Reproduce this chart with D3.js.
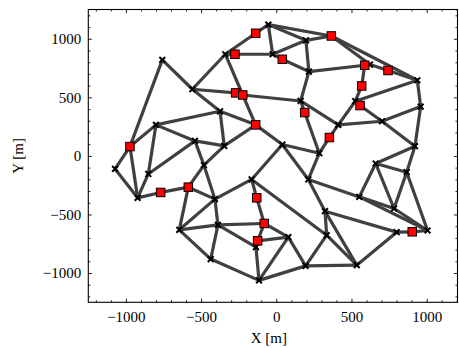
<!DOCTYPE html>
<html>
<head>
<meta charset="utf-8">
<script src="https://cdn.jsdelivr.net/npm/d3@7"></script>
<style>
  body { margin: 0; background: #fff; }
  svg { display: block; }
  text { font-family: "Liberation Serif", "DejaVu Serif", serif; fill: #000; }
</style>
</head>
<body>
<div id="app"></div>
<script>
// junctions (x markers)
const junctionIds = ["A","B","C","D","E","F","G","H","I","J","K","L","M","N","O","P","Q","R","S","T","U","V","W","X","Y","Z",
  "AA","AB","AC","AD","AE","AF","AG","AH","AI","AJ","AK","AL","AM","AN","AO","AP","AQ","AR"];
const junctionX = [-758,-558,-339,-53,-24,197,217,623,938,525,960,162,412,703,922,40,286,-374,-800,-541,-346,-1072,-851,-922,-481,-408,
  -164,-388,-645,-135,-436,-115,661,867,213,552,783,324,800,1006,335,80,195,535];
const junctionY = [820,569,868,1121,868,987,720,780,646,467,421,469,265,296,83,97,23,381,265,128,85,-111,-154,-358,-79,-369,
  -201,-589,-631,-779,-881,-1063,-65,-139,-201,-350,-449,-472,-651,-637,-677,-694,-939,-933];

// red squares
const sinkIds = ["r1","r2","r3","r4","r5","r6","r7","r8","r9","r10","r11","r12","r13","r14","r15","r16","r17","r18","r19","r20"];
const sinkX = [-275,-137,40,366,588,743,568,557,189,353,-270,-223,-137,-973,-769,-585,-130,-80,-124,904];
const sinkY = [868,1047,825,1024,774,729,597,430,370,157,538,520,265,80,-312,-267,-358,-577,-725,-648];

// pipes
const edges = [
  ["A","B"],["A","r14"],["B","C"],["C","r1"],["r1","E"],["C","r2"],["r2","D"],["D","E"],["D","F"],["D","r4"],
  ["E","F"],["E","r3"],["r3","G"],["F","G"],["F","r4"],["G","r5"],["G","L"],["r4","H"],["r4","I"],["H","r5"],
  ["H","r6"],["r6","I"],["r5","r7"],["r7","J"],["J","r8"],["J","I"],["J","M"],["r8","N"],["N","K"],["I","K"],
  ["K","O"],["N","O"],["M","N"],["M","r10"],["L","M"],["L","r9"],["r9","Q"],["r10","Q"],["B","r11"],["r11","r12"],
  ["r12","L"],["C","r12"],["r12","r13"],["B","R"],["R","r13"],["R","U"],["S","R"],["S","r14"],["S","T"],["S","W"],
  ["T","U"],["T","W"],["T","Y"],["U","Y"],["U","r13"],["r13","P"],["P","Q"],["P","AI"],["P","AA"],["Q","AI"],
  ["r14","V"],["r14","X"],["V","X"],["W","X"],["X","r15"],["r15","r16"],["r16","Y"],["r16","Z"],["r16","AC"],["Y","Z"],
  ["Z","AA"],["Z","AB"],["AC","Z"],["AC","AB"],["AC","AE"],["AB","AE"],["AB","r18"],["AB","AD"],["AE","AF"],["AA","r17"],
  ["AA","AO"],["r17","r18"],["r18","r19"],["r19","AD"],["AD","AF"],["r18","AP"],["r19","AP"],["AP","AF"],["AP","AQ"],["AF","AQ"],
  ["AI","AJ"],["AI","AL"],["AG","AJ"],["AG","AK"],["AG","AH"],["AH","AK"],["AH","AN"],["AH","O"],["AG","O"],["AJ","AK"],
  ["AJ","AN"],["AK","AN"],["AL","AM"],["AM","r20"],["r20","AN"],["AL","AO"],["AL","AR"],["AO","AR"],["AO","AQ"],["AM","AR"],
  ["AQ","AR"]
];

const xTicks = [-1000, -500, 0, 500, 1000];
const yTicks = [-1000, -500, 0, 500, 1000];
const xLabel = "X [m]";
const yLabel = "Y [m]";

const W = 459, H = 348;
const plot = {left: 88.3, right: 457.5, top: 9.5, bottom: 302.3};

const x = d3.scaleLinear().domain([-1250, 1205]).range([plot.left, plot.right]);
const y = d3.scaleLinear().domain([-1250, 1250]).range([plot.bottom, plot.top]);

const pos = new Map();
junctionIds.forEach((id, i) => pos.set(id, [junctionX[i], junctionY[i]]));
sinkIds.forEach((id, i) => pos.set(id, [sinkX[i], sinkY[i]]));

const svg = d3.select("#app").append("svg")
    .attr("width", W)
    .attr("height", H);

// pipes
svg.append("g")
    .attr("stroke", "#404040")
    .attr("stroke-width", 3.2)
    .selectAll("line")
    .data(edges)
    .join("line")
    .attr("x1", d => x(pos.get(d[0])[0]))
    .attr("y1", d => y(pos.get(d[0])[1]))
    .attr("x2", d => x(pos.get(d[1])[0]))
    .attr("y2", d => y(pos.get(d[1])[1]));

// junction markers
const s = 2.9;
svg.append("g")
    .attr("stroke", "#000")
    .attr("stroke-width", 2)
    .selectAll("path")
    .data(junctionIds)
    .join("path")
    .attr("d", id => {
        const cx = x(pos.get(id)[0]), cy = y(pos.get(id)[1]);
        return `M${cx - s},${cy - s}L${cx + s},${cy + s}M${cx - s},${cy + s}L${cx + s},${cy - s}`;
    });

// red squares
const sq = 8.5;
svg.append("g")
    .selectAll("rect")
    .data(sinkIds)
    .join("rect")
    .attr("x", id => x(pos.get(id)[0]) - sq / 2)
    .attr("y", id => y(pos.get(id)[1]) - sq / 2)
    .attr("width", sq)
    .attr("height", sq)
    .attr("fill", "#ff0000")
    .attr("stroke", "#000")
    .attr("stroke-width", 1);

// axes: ticks inside on all four sides
const fmt = d => d < 0 ? "\u2212" + Math.abs(d) : String(d);
const minorX = d3.range(-1200, 1201, 100).filter(v => v % 500 !== 0);
const minorY = d3.range(-1200, 1201, 100).filter(v => v % 500 !== 0);

function ticks(axis, values, size, labels, pad) {
    return g => g.call(axis.tickValues(values).tickFormat(labels ? fmt : "").tickSizeInner(-size).tickSizeOuter(0).tickPadding(pad || 3))
        .call(g => g.select(".domain").remove());
}

svg.append("g").attr("transform", `translate(0,${plot.bottom})`).call(ticks(d3.axisBottom(x), xTicks, 3.5, true, 9));
svg.append("g").attr("transform", `translate(0,${plot.top})`).call(ticks(d3.axisTop(x), xTicks, 3.5, false));
svg.append("g").attr("transform", `translate(${plot.left},0)`).call(ticks(d3.axisLeft(y), yTicks, 3.5, true, 7));
svg.append("g").attr("transform", `translate(${plot.right},0)`).call(ticks(d3.axisRight(y), yTicks, 3.5, false));

// minor ticks
svg.append("g").attr("transform", `translate(0,${plot.bottom})`).call(ticks(d3.axisBottom(x), minorX, 2, false));
svg.append("g").attr("transform", `translate(0,${plot.top})`).call(ticks(d3.axisTop(x), minorX, 2, false));
svg.append("g").attr("transform", `translate(${plot.left},0)`).call(ticks(d3.axisLeft(y), minorY, 2, false));
svg.append("g").attr("transform", `translate(${plot.right},0)`).call(ticks(d3.axisRight(y), minorY, 2, false));

svg.selectAll(".tick text").attr("font-size", 15).attr("font-family", "Liberation Serif, DejaVu Serif, serif");
svg.selectAll(".tick line").attr("stroke", "#000").attr("stroke-width", 0.9);

svg.append("rect")
    .attr("x", plot.left).attr("y", plot.top)
    .attr("width", plot.right - plot.left).attr("height", plot.bottom - plot.top)
    .attr("fill", "none").attr("stroke", "#000").attr("stroke-width", 1.1);

svg.append("text")
    .attr("x", (plot.left + plot.right) / 2 - 4)
    .attr("y", 343)
    .attr("text-anchor", "middle")
    .attr("font-size", 15)
    .text(xLabel);

svg.append("text")
    .attr("transform", `translate(23,${(plot.top + plot.bottom) / 2}) rotate(-90)`)
    .attr("text-anchor", "middle")
    .attr("font-size", 15)
    .text(yLabel);
</script>
</body>
</html>
